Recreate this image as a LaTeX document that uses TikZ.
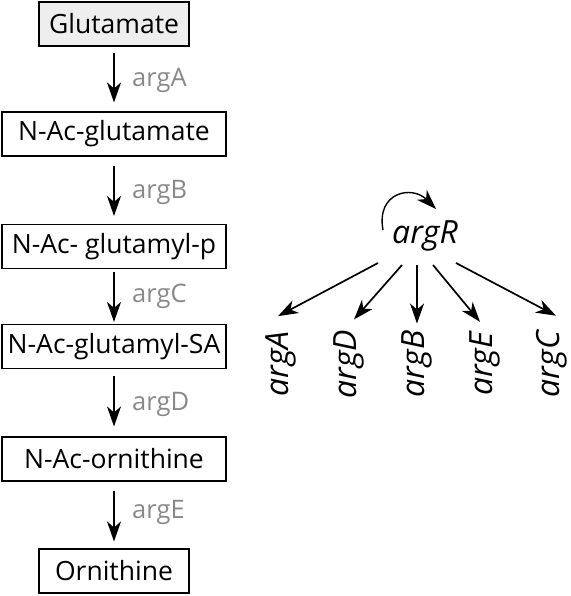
\documentclass[tikz,border=0pt]{standalone}
\usepackage{fontspec}
\setmainfont{Open Sans}
\usetikzlibrary{arrows.meta}
\definecolor{boxgray}{HTML}{EEEEEE}
\definecolor{enzgray}{HTML}{888888}
\tikzset{
  metab/.style={draw,line width=1.1pt,inner sep=0pt,minimum height=44pt,minimum width=224pt,font=\fontsize{26.5}{30}\selectfont},
  enzyme/.style={text=enzgray,anchor=west,inner sep=0pt,font=\fontsize{25.5}{30}\selectfont},
  gene/.style={inner sep=0pt,font=\fontsize{32}{36}\selectfont\itshape},
  react/.style={-{Stealth[length=20pt,width=14pt,inset=6pt]},line width=1.7pt},
  regul/.style={-{Stealth[length=20pt,width=14pt,inset=6pt]},line width=1.7pt}
}
\begin{document}
\begin{tikzpicture}[x=1pt,y=-1pt]
  \useasboundingbox (0,0) rectangle (570,596);
  % pathway
  \node[metab,fill=boxgray,minimum width=150pt] (glu) at (114,24) {Glutamate};
  \node[metab] (acglu) at (114,134) {N-Ac-glutamate};
  \node[metab] (acglup) at (114,246.5) {N-Ac- glutamyl-p};
  \node[metab] (acglusa) at (114,346.5) {N-Ac-glutamyl-SA};
  \node[metab] (acorn) at (114,459) {N-Ac-ornithine};
  \node[metab,minimum width=150pt] (orn) at (114,571) {Ornithine};
  \draw[react,shorten <=6pt,shorten >=9pt] (glu) -- (acglu);
  \draw[react,shorten <=9pt,shorten >=8pt] (acglu) -- (acglup);
  \draw[react,shorten <=3pt,shorten >=2pt] (acglup) -- (acglusa);
  \draw[react,shorten <=7pt,shorten >=10pt] (acglusa) -- (acorn);
  \draw[react,shorten <=9pt,shorten >=7pt] (acorn) -- (orn);
  \node[enzyme] (eA) at (132,80) {argA};
  \node[enzyme] (eB) at (132,192) {argB};
  \node[enzyme] (eC) at (132,296) {argC};
  \node[enzyme] (eD) at (132,404) {argD};
  \node[enzyme] (eE) at (132,512) {argE};
  % regulator
  \node[gene,anchor=base] (argR) at (425,243) {argR};
  \node[gene,rotate=90] (gA) at (281,364) {argA};
  \node[gene,rotate=90] (gD) at (349,364) {argD};
  \node[gene,rotate=90] (gB) at (417,364) {argB};
  \node[gene,rotate=90] (gE) at (485,364) {argE};
  \node[gene,rotate=90] (gC) at (552,364) {argC};
  \draw[-{Stealth[length=20pt,width=14pt,inset=6pt]},line width=1.4pt] ([shift={(-42,-13)}]argR.base)
    .. controls +(-7,-38) and +(-24,-24) .. ([shift={(11,-34)}]argR.base);
  \draw[regul] ([shift={(-47,20)}]argR.base) -- ([shift={(-3,-15)}]gA.east);
  \draw[regul] ([shift={(-23,22)}]argR.base) -- ([shift={(5,-10)}]gD.east);
  \draw[regul] ([shift={(-8,22)}]argR.base) -- ([shift={(0,-7)}]gB.east);
  \draw[regul] ([shift={(8,22)}]argR.base) -- ([shift={(-5,-10)}]gE.east);
  \draw[regul] ([shift={(31,20)}]argR.base) -- ([shift={(4,-15)}]gC.east);
\end{tikzpicture}
\end{document}
